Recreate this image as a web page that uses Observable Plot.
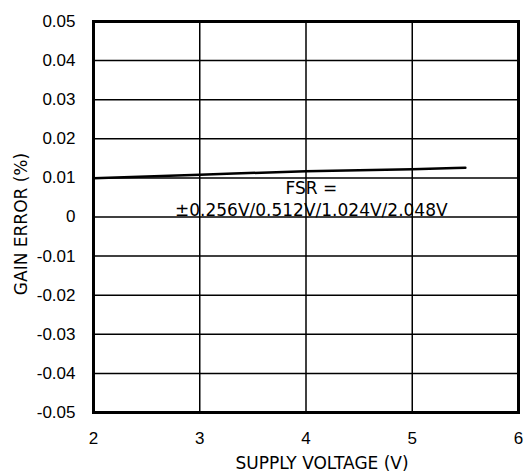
<!DOCTYPE html>
<html><head><meta charset="utf-8">
<script src="https://cdn.jsdelivr.net/npm/d3@7"></script>
<script src="https://cdn.jsdelivr.net/npm/@observablehq/plot@0.6"></script>
<style>body{margin:0;background:#fff}</style>
</head><body><div id="chart"></div>
<script>
const voltage = [2, 3, 4, 5, 5.5];
const gainError = [0.0099, 0.0108, 0.0117, 0.0122, 0.0126];
const xTicks = [2, 3, 4, 5, 6];
const yTicks = [-0.05, -0.04, -0.03, -0.02, -0.01, 0, 0.01, 0.02, 0.03, 0.04, 0.05];
const notes = [{x: 4.05, y: 0.0058, t: "FSR ="}, {x: 4.05, y: 0.0003, t: "±0.256V/0.512V/1.024V/2.048V"}];
const xTitle = "SUPPLY VOLTAGE (V)";
const yTitle = "GAIN ERROR (%)";

const data = voltage.map((v, i) => ({v, g: gainError[i]}));
const fmt = d => d === 0 ? "0" : d.toFixed(2);
const titleFont = "DejaVu Sans, sans-serif";

const chart = Plot.plot({
  width: 524, height: 472,
  marginLeft: 93, marginRight: 6, marginTop: 21, marginBottom: 60,
  style: {fontFamily: "Liberation Sans, Arial, sans-serif", fontSize: "17px", color: "#000", background: "#fff"},
  x: {domain: [2, 6]},
  y: {domain: [-0.05, 0.05]},
  marks: [
    Plot.ruleX(xTicks.slice(1, -1), {stroke: "#000", strokeWidth: 1.5}),
    Plot.ruleY(yTicks.slice(1, -1), {stroke: "#000", strokeWidth: 1.5}),
    Plot.line(data, {x: "v", y: "g", stroke: "#000", strokeWidth: 2.5, curve: "monotone-x"}),
    Plot.text(notes, {x: "x", y: "y", text: "t", fontSize: 17, fill: "#000", fontFamily: titleFont, lineAnchor: "bottom"}),
    Plot.frame({stroke: "#000", strokeWidth: 3}),
    Plot.axisY({ticks: yTicks, tickSize: 0, tickPadding: 18, tickFormat: fmt, label: null, fontSize: 17}),
    Plot.axisX({ticks: xTicks, tickSize: 0, tickPadding: 19, tickFormat: d => String(d), label: null, fontSize: 17}),
    Plot.text([xTitle], {frameAnchor: "bottom", text: d => d, lineAnchor: "bottom", dx: 16, dy: 56, fontSize: 17, fontFamily: titleFont, fill: "#000"}),
    Plot.text([yTitle], {frameAnchor: "left", text: d => d, rotate: -90, textAnchor: "middle", lineAnchor: "middle", dx: -72, dy: 7, fontSize: 17, fontFamily: titleFont, fill: "#000"})
  ]
});
document.getElementById("chart").appendChild(chart);
</script></body></html>
